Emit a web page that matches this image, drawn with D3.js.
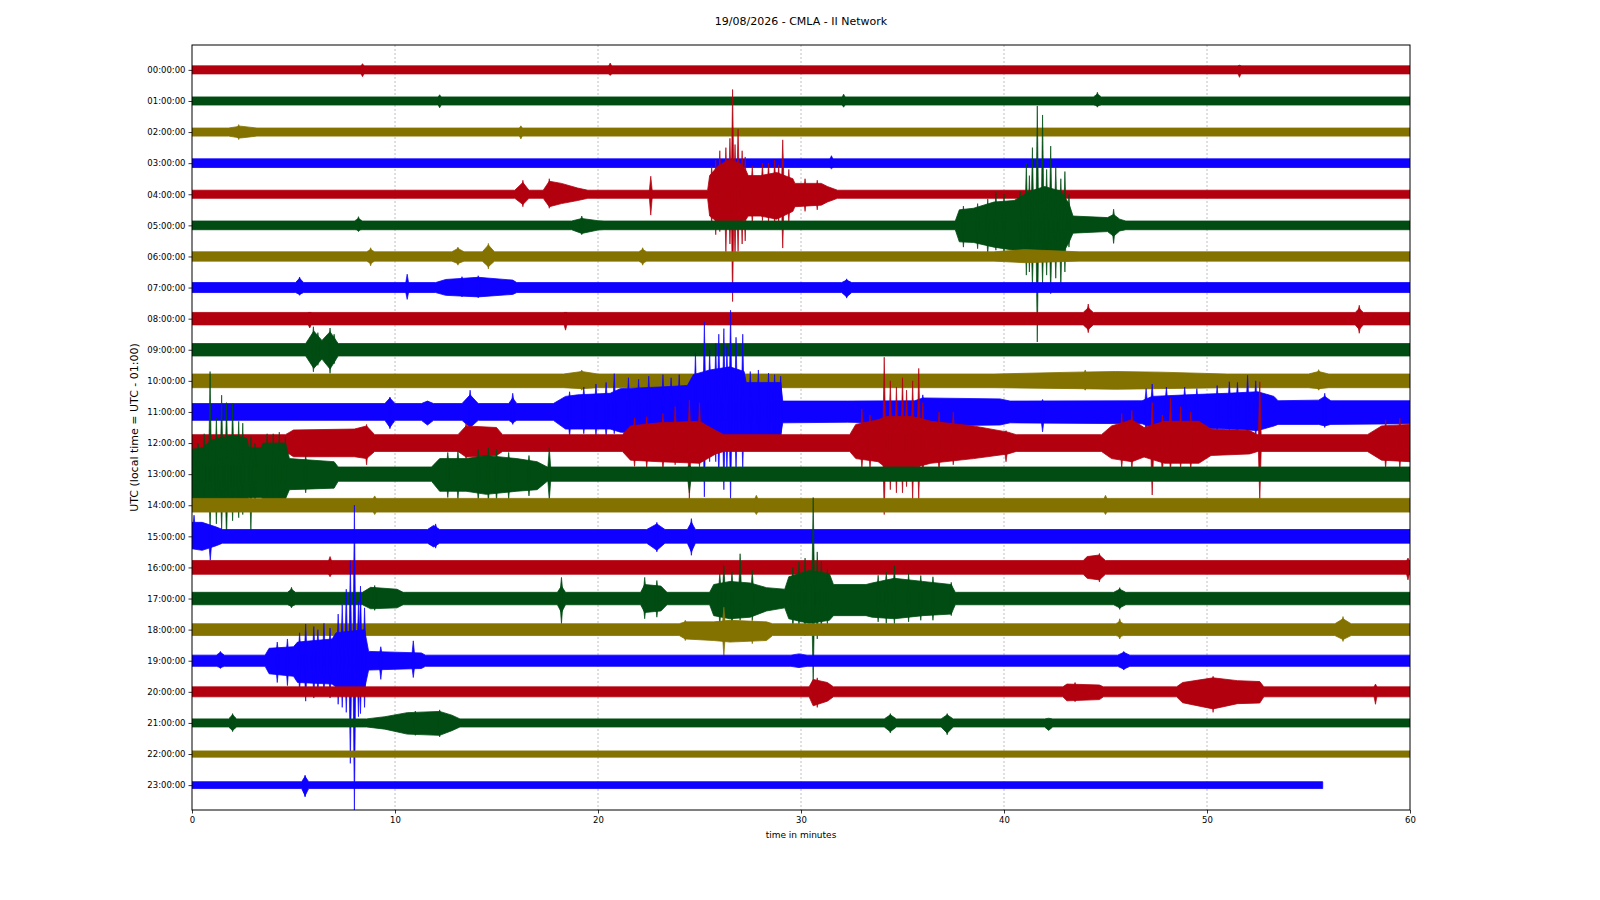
<!DOCTYPE html>
<html>
<head>
<meta charset="utf-8">
<script src="https://cdn.jsdelivr.net/npm/d3@7"></script>
<style>
  body { margin: 0; background: #fff; }
  svg text { font-family: "DejaVu Sans", sans-serif; fill: #000; }
</style>
</head>
<body>
<svg id="chart" width="1600" height="900"></svg>
<script>
// Hour labels of each helicorder line
const hourLabels = d3.range(24).map(h => `${String(h).padStart(2, "0")}:00:00`);
const minuteTicks = [0, 10, 20, 30, 40, 50, 60];
const gridMinutes = [10, 20, 30, 40, 50];
const traceColors = ["#B2000F", "#004C12", "#847200", "#0E01FF"];
const lastTraceEnd = 55.7;

// Background noise half-width of each hour (1 = one line spacing)
const baseAmp = [0.13, 0.13, 0.13, 0.14, 0.13, 0.14, 0.15, 0.16, 0.2, 0.2, 0.22, 0.27,
                 0.27, 0.23, 0.22, 0.22, 0.22, 0.2, 0.19, 0.18, 0.16, 0.13, 0.1, 0.11];

// Envelope keypoints per hour: [minute, amplitude up, amplitude down] (0 = background)
const events = [
  [],
  [[44.4, 0, 0], [44.6, 0.22, 0.15], [44.8, 0, 0]],
  [[1.8, 0, 0], [2.4, 0.19, 0.19], [3.2, 0, 0]],
  [],
  [[15.9, 0, 0], [16.3, 0.38, 0.33], [16.6, 0, 0],
   [17.3, 0, 0], [17.6, 0.42, 0.4], [18.2, 0.35, 0.3], [19.0, 0.2, 0.2], [19.5, 0, 0],
   [25.4, 0, 0], [25.5, 0.6, 0.7], [25.9, 0.9, 0.9], [26.4, 1.1, 1.05], [27.0, 1.0, 0.9], [27.3, 0.75, 0.8],
   [27.4, 0.6, 0.7], [28.0, 0.6, 0.7], [28.8, 0.7, 0.8], [29.6, 0.5, 0.55], [29.7, 0.35, 0.4],
   [31.0, 0.35, 0.35], [31.3, 0.25, 0.25], [31.8, 0, 0]],
  [[8.0, 0, 0], [8.2, 0.22, 0.15], [8.4, 0, 0],
   [18.7, 0, 0], [19.2, 0.22, 0.26], [20.0, 0.15, 0.15], [20.3, 0, 0],
   [37.6, 0, 0], [37.8, 0.5, 0.53], [38.5, 0.55, 0.55], [39.5, 0.75, 0.7], [40.5, 0.8, 0.8], [41.3, 1.1, 1.1],
   [42.0, 1.25, 1.15], [42.8, 1.1, 1.0], [43.2, 0.7, 0.55], [43.4, 0.3, 0.25], [45.1, 0.25, 0.2],
   [45.4, 0.35, 0.35], [45.7, 0.2, 0.18], [46.0, 0, 0]],
  [[8.6, 0, 0], [8.8, 0.22, 0.22], [9.0, 0, 0],
   [12.8, 0, 0], [13.1, 0.26, 0.23], [13.4, 0, 0],
   [14.3, 0, 0], [14.6, 0.37, 0.33], [14.9, 0, 0],
   [22.0, 0, 0], [22.2, 0.22, 0.22], [22.4, 0, 0],
   [39.5, 0, 0], [41.0, 0.22, 0.2], [43.7, 0, 0]],
  [[5.1, 0, 0], [5.3, 0.3, 0.22], [5.5, 0, 0],
   [12.0, 0, 0], [12.5, 0.26, 0.25], [14.1, 0.33, 0.3], [15.8, 0.24, 0.22], [16.0, 0, 0],
   [32.0, 0, 0], [32.25, 0.24, 0.3], [32.5, 0, 0]],
  [[43.9, 0, 0], [44.15, 0.35, 0.35], [44.4, 0, 0], [57.3, 0, 0], [57.5, 0.33, 0.35], [57.7, 0, 0]],
  [[5.6, 0, 0], [6.0, 0.6, 0.6], [6.4, 0.3, 0.3], [6.8, 0.58, 0.62], [7.2, 0, 0]],
  [[18.3, 0, 0], [19.2, 0.3, 0.25], [20.0, 0, 0],
   [39.5, 0, 0], [43.5, 0.28, 0.25], [45.5, 0.3, 0.27], [47.7, 0.28, 0.25], [51.0, 0, 0],
   [55.0, 0, 0], [55.5, 0.3, 0.25], [56.0, 0, 0]],
  [[9.5, 0, 0], [9.75, 0.45, 0.5], [10.0, 0, 0],
   [11.3, 0, 0], [11.6, 0.35, 0.42], [11.9, 0, 0],
   [13.3, 0, 0], [13.7, 0.55, 0.5], [14.1, 0, 0],
   [15.6, 0, 0], [15.8, 0.45, 0.35], [16.0, 0, 0],
   [17.8, 0, 0], [18.4, 0.5, 0.55], [19.0, 0.55, 0.55], [20.6, 0.6, 0.55], [21.1, 0.75, 0.65], [23.0, 0.8, 0.7],
   [24.4, 0.85, 0.75], [24.7, 1.2, 1.0], [25.5, 1.35, 1.1], [26.5, 1.45, 1.15], [27.2, 1.3, 1.0], [27.3, 0.95, 0.75],
   [29.0, 0.95, 0.75], [29.1, 0.35, 0.35], [32.3, 0.35, 0.33], [35.6, 0.36, 0.38], [36.0, 0.45, 0.45],
   [39.8, 0.42, 0.42], [40.3, 0.35, 0.35], [46.8, 0.36, 0.38], [47.3, 0.5, 0.5], [49.0, 0.55, 0.5],
   [51.0, 0.6, 0.55], [52.5, 0.65, 0.6], [53.3, 0.5, 0.45], [53.5, 0.36, 0.4], [55.5, 0.38, 0.4],
   [55.8, 0.5, 0.45], [56.1, 0.36, 0.4], [60, 0.36, 0.38]],
  [[4.6, 0, 0], [5.0, 0.42, 0.44], [8.0, 0.45, 0.44], [8.6, 0.55, 0.5], [9.0, 0, 0],
   [13.1, 0, 0], [13.5, 0.55, 0.45], [15.0, 0.5, 0.4], [15.3, 0, 0],
   [21.2, 0, 0], [21.6, 0.55, 0.55], [23.0, 0.65, 0.6], [25.0, 0.7, 0.65], [25.8, 0.4, 0.35], [26.2, 0, 0],
   [32.4, 0, 0], [32.7, 0.6, 0.5], [33.8, 0.75, 0.6], [34.2, 0.85, 0.8], [35.5, 0.85, 0.8], [36.4, 0.7, 0.65],
   [38.5, 0.55, 0.5], [40.2, 0.35, 0.35], [40.6, 0, 0],
   [44.8, 0, 0], [45.3, 0.55, 0.5], [46.3, 0.75, 0.6], [46.9, 0.5, 0.45], [47.9, 0.7, 0.65], [49.6, 0.7, 0.65],
   [50.2, 0.45, 0.4], [52.1, 0.4, 0.35], [52.5, 0, 0],
   [57.9, 0, 0], [58.6, 0.55, 0.55], [60, 0.6, 0.6]],
  [[0, 0.8, 0.8], [0.5, 0.85, 0.8], [1.0, 1.1, 1.0], [2.0, 1.25, 1.1], [2.7, 1.15, 0.95], [2.8, 0.85, 0.75],
   [3.4, 0.85, 0.75], [3.5, 1.0, 0.8], [4.6, 1.0, 0.8], [4.8, 0.5, 0.5], [7.0, 0.4, 0.45], [7.2, 0, 0],
   [11.8, 0, 0], [12.2, 0.5, 0.55], [13.5, 0.5, 0.55], [14.5, 0.6, 0.65], [16.0, 0.5, 0.55],
   [17.0, 0.4, 0.5], [17.5, 0, 0]],
  [],
  [[0, 0.45, 0.4], [0.5, 0.45, 0.45], [1.2, 0.3, 0.3], [1.5, 0, 0],
   [11.6, 0, 0], [11.9, 0.35, 0.34], [12.2, 0, 0],
   [22.4, 0, 0], [22.9, 0.4, 0.45], [23.3, 0, 0],
   [24.4, 0, 0], [24.6, 0.45, 0.5], [24.8, 0, 0]],
  [[43.9, 0, 0], [44.1, 0.35, 0.35], [44.7, 0.4, 0.4], [45.0, 0, 0]],
  [[4.7, 0, 0], [4.9, 0.3, 0.25], [5.1, 0, 0],
   [8.4, 0, 0], [8.8, 0.36, 0.33], [10.1, 0.3, 0.3], [10.4, 0, 0],
   [18.0, 0, 0], [18.2, 0.4, 0.45], [18.4, 0, 0],
   [22.1, 0, 0], [22.3, 0.45, 0.45], [23.1, 0.4, 0.4], [23.4, 0, 0],
   [25.5, 0, 0], [25.7, 0.45, 0.55], [26.5, 0.55, 0.65], [27.5, 0.5, 0.6], [28.3, 0.35, 0.4], [29.2, 0.3, 0.3],
   [29.4, 0.7, 0.65], [30.4, 0.9, 0.8], [31.4, 0.8, 0.7], [31.6, 0.45, 0.55], [33.2, 0.45, 0.55],
   [33.5, 0.5, 0.6], [34.6, 0.65, 0.65], [36.0, 0.55, 0.55], [37.4, 0.45, 0.5], [37.6, 0, 0],
   [45.4, 0, 0], [45.7, 0.3, 0.3], [46.0, 0, 0]],
  [[24.0, 0, 0], [24.3, 0.25, 0.3], [25.7, 0.25, 0.35], [26.5, 0.3, 0.4], [28.3, 0.25, 0.35], [28.6, 0, 0],
   [45.5, 0, 0], [45.7, 0.25, 0.22], [45.9, 0, 0],
   [56.3, 0, 0], [56.7, 0.35, 0.32], [57.1, 0, 0]],
  [[1.2, 0, 0], [1.4, 0.27, 0.22], [1.6, 0, 0],
   [3.6, 0, 0], [3.8, 0.4, 0.42], [5.0, 0.45, 0.5], [5.2, 0.6, 0.7], [6.9, 0.7, 0.75], [7.1, 0.9, 0.85],
   [8.5, 1.0, 0.9], [8.7, 0.3, 0.3], [11.3, 0.25, 0.25], [11.5, 0, 0],
   [29.5, 0, 0], [29.9, 0.22, 0.22], [30.3, 0, 0],
   [45.6, 0, 0], [45.9, 0.27, 0.27], [46.2, 0, 0]],
  [[30.4, 0, 0], [30.6, 0.4, 0.45], [31.3, 0.3, 0.3], [31.6, 0, 0],
   [42.9, 0, 0], [43.1, 0.25, 0.29], [44.7, 0.22, 0.25], [44.9, 0, 0],
   [48.5, 0, 0], [48.8, 0.3, 0.35], [50.3, 0.45, 0.55], [51.5, 0.36, 0.38], [52.6, 0.33, 0.36], [52.8, 0, 0]],
  [[1.8, 0, 0], [2.0, 0.26, 0.24], [2.2, 0, 0],
   [8.6, 0, 0], [9.5, 0.2, 0.2], [10.6, 0.33, 0.36], [12.2, 0.37, 0.4], [12.8, 0.25, 0.25], [13.2, 0, 0],
   [34.1, 0, 0], [34.4, 0.26, 0.28], [34.7, 0, 0],
   [36.9, 0, 0], [37.2, 0.26, 0.33], [37.5, 0, 0],
   [42.0, 0, 0], [42.2, 0.15, 0.24], [42.4, 0, 0]],
  [],
  [[5.4, 0, 0], [5.57, 0.28, 0.34], [5.75, 0, 0]]
];

// Single large swings per hour: [minute, amplitude up, amplitude down]
const spikes = [
  [[8.4, 0.2, 0.22], [20.6, 0.22, 0.18], [51.6, 0.15, 0.24]],
  [[12.2, 0.2, 0.22], [32.1, 0.22, 0.2], [44.6, 0.28, 0.2]],
  [[2.3, 0.24, 0.24], [16.2, 0.2, 0.22]],
  [[31.5, 0.24, 0.18]],
  [[16.3, 0.45, 0.4], [17.6, 0.5, 0.45], [22.6, 0.58, 0.67],
   [25.6, 0.9, 1.0], [25.8, 1.1, 1.3], [26.0, 1.4, 1.2], [26.3, 1.5, 1.85], [26.5, 1.8, 1.6],
   [26.63, 3.37, 3.45], [26.75, 1.6, 2.0], [26.9, 2.1, 1.84], [27.1, 1.4, 1.6], [27.25, 1.2, 1.5],
   [27.6, 0.9, 0.95], [28.1, 1.0, 0.85], [28.4, 1.0, 0.9], [28.7, 1.1, 1.0], [28.9, 0.95, 0.9],
   [29.1, 1.75, 1.73], [29.4, 0.8, 0.9], [30.2, 0.5, 0.55], [30.8, 0.45, 0.5]],
  [[8.2, 0.28, 0.2], [19.2, 0.3, 0.3], [38.0, 0.62, 0.7], [38.7, 0.7, 0.75], [39.2, 0.85, 0.95],
   [39.6, 1.08, 0.8], [40.0, 1.0, 0.95], [40.8, 1.1, 1.0], [41.1, 2.0, 1.6], [41.25, 1.6, 1.5],
   [41.4, 2.5, 2.0], [41.64, 3.84, 3.75], [41.9, 3.55, 1.9], [42.1, 1.8, 1.6], [42.3, 2.55, 2.2],
   [42.55, 1.9, 1.7], [42.8, 1.5, 2.0], [43.0, 1.73, 1.5], [43.2, 1.0, 0.7], [45.4, 0.52, 0.58]],
  [[8.8, 0.28, 0.3], [13.1, 0.3, 0.28], [14.6, 0.42, 0.4], [22.2, 0.28, 0.28]],
  [[5.3, 0.34, 0.25], [10.6, 0.43, 0.38], [13.3, 0.35, 0.3], [14.1, 0.38, 0.33], [32.25, 0.28, 0.34]],
  [[5.8, 0.2, 0.3], [18.4, 0.2, 0.37], [44.15, 0.47, 0.45], [57.5, 0.43, 0.47]],
  [[5.98, 0.74, 0.71], [6.2, 0.55, 0.5], [6.8, 0.7, 0.76], [7.0, 0.5, 0.45]],
  [[19.2, 0.35, 0.3], [44.0, 0.35, 0.3], [55.5, 0.36, 0.3]],
  [[9.75, 0.48, 0.54], [13.7, 0.7, 0.6], [15.8, 0.6, 0.4], [18.6, 0.65, 0.8], [19.3, 0.8, 0.7],
   [19.9, 0.9, 0.75], [20.4, 0.95, 0.8], [20.8, 1.23, 0.7], [21.5, 1.1, 0.9], [22.0, 1.05, 0.95],
   [22.5, 1.15, 0.9], [23.2, 1.2, 0.8], [23.6, 1.1, 0.85], [24.0, 1.2, 0.95], [24.8, 1.9, 1.5],
   [25.24, 2.9, 2.73], [25.5, 2.0, 1.6], [25.8, 2.2, 1.6], [25.95, 2.5, 2.1], [26.2, 2.68, 2.5],
   [26.35, 2.1, 1.9], [26.53, 3.27, 2.84], [26.8, 2.4, 1.9], [27.13, 2.5, 1.8], [27.5, 1.3, 1.0],
   [27.9, 1.35, 0.95], [28.4, 1.25, 0.9], [28.7, 1.2, 0.85], [29.0, 1.15, 0.9], [36.0, 0.55, 0.5],
   [41.9, 0.4, 0.64], [47.0, 0.75, 0.6], [47.3, 0.9, 0.6], [48.0, 0.8, 0.65], [48.9, 0.8, 0.6],
   [49.5, 0.75, 0.55], [50.5, 0.85, 0.65], [51.1, 0.97, 0.6], [51.5, 0.95, 0.7], [52.0, 1.18, 0.75],
   [52.4, 1.0, 0.8], [55.8, 0.6, 0.5]],
  [[8.6, 0.6, 0.7], [13.5, 0.64, 0.5], [21.8, 0.8, 0.75], [22.4, 0.85, 0.8], [23.2, 0.95, 0.85],
   [23.8, 1.17, 0.7], [24.5, 1.38, 1.84], [25.0, 1.3, 0.76], [33.0, 1.1, 0.8], [33.4, 0.9, 0.8],
   [34.1, 2.76, 2.3], [34.4, 2.0, 1.5], [34.7, 1.8, 1.6], [35.0, 2.1, 1.6], [35.2, 1.7, 1.4],
   [35.5, 2.0, 1.8], [35.8, 2.4, 1.8], [36.0, 1.3, 1.1], [36.8, 1.0, 0.9], [37.5, 1.0, 0.7],
   [40.1, 0.4, 0.6], [45.8, 0.95, 0.8], [46.3, 1.05, 0.85], [47.3, 1.3, 1.67], [47.8, 0.9, 1.0],
   [48.2, 1.44, 0.9], [48.7, 1.17, 0.8], [49.2, 1.0, 0.85], [52.6, 1.97, 1.84], [58.8, 0.75, 0.8],
   [59.5, 0.8, 0.8]],
  [[0.3, 1.0, 1.0], [0.6, 1.3, 1.0], [0.89, 3.3, 1.76], [1.2, 1.8, 1.6], [1.46, 2.54, 1.8],
   [1.7, 2.3, 2.1], [2.0, 2.28, 1.5], [2.3, 1.7, 1.4], [2.5, 1.64, 1.3], [2.9, 1.2, 1.8],
   [3.1, 1.0, 1.2], [3.7, 1.3, 1.0], [4.0, 1.3, 0.9], [4.3, 1.35, 0.95], [4.6, 1.2, 0.9],
   [5.6, 0.6, 0.6], [12.6, 0.7, 0.75], [13.1, 0.75, 0.8], [14.1, 0.8, 0.85], [14.6, 0.85, 0.9],
   [15.0, 0.8, 0.85], [15.6, 0.7, 0.8], [16.6, 0.6, 0.7], [17.6, 0.85, 0.85], [24.5, 0.3, 0.6]],
  [[9.0, 0.3, 0.3], [27.8, 0.32, 0.3], [45.0, 0.32, 0.3]],
  [[0.1, 0.68, 0.3], [0.9, 0.3, 0.77], [12.0, 0.4, 0.38], [22.9, 0.45, 0.5], [24.6, 0.57, 0.61]],
  [[6.8, 0.35, 0.3], [44.7, 0.45, 0.47], [59.9, 0.3, 0.4]],
  [[4.9, 0.36, 0.3], [9.0, 0.42, 0.38], [18.2, 0.68, 0.81], [22.3, 0.68, 0.65], [22.9, 0.58, 0.6],
   [26.0, 0.8, 0.85], [26.2, 1.06, 0.9], [26.6, 0.85, 0.95], [27.0, 1.44, 0.7], [27.6, 0.9, 0.7],
   [29.6, 1.0, 0.95], [29.9, 1.17, 0.9], [30.2, 1.3, 1.2], [30.6, 3.25, 2.76], [30.8, 1.5, 1.3],
   [31.0, 1.2, 1.0], [31.3, 0.95, 0.85], [33.8, 0.75, 0.75], [34.2, 0.85, 0.8], [34.6, 1.06, 0.81],
   [35.3, 0.8, 0.75], [35.9, 0.74, 0.7], [36.5, 0.7, 0.7], [37.4, 0.52, 0.55], [45.7, 0.35, 0.35]],
  [[24.3, 0.3, 0.35], [26.2, 0.72, 0.84], [27.6, 0.3, 0.45], [45.7, 0.35, 0.3], [56.7, 0.42, 0.38]],
  [[1.4, 0.3, 0.25], [4.2, 0.6, 0.7], [4.7, 0.7, 0.8], [5.3, 0.9, 1.0], [5.6, 1.18, 1.3],
   [6.0, 1.1, 1.2], [6.2, 1.0, 1.1], [6.5, 1.2, 1.1], [6.8, 1.05, 1.2], [7.2, 1.5, 1.4],
   [7.4, 1.8, 1.5], [7.6, 2.3, 1.66], [7.8, 3.22, 3.3], [8.0, 5.0, 4.8], [8.2, 1.9, 1.8],
   [8.3, 2.4, 1.7], [8.5, 1.7, 1.5], [9.3, 0.45, 0.6], [10.9, 0.64, 0.54], [45.9, 0.3, 0.3]],
  [[30.8, 0.45, 0.5], [43.5, 0.3, 0.32], [50.3, 0.5, 0.66], [58.3, 0.25, 0.4]],
  [[2.0, 0.3, 0.28], [11.0, 0.38, 0.4], [12.2, 0.42, 0.45], [34.4, 0.3, 0.32], [37.2, 0.3, 0.38]],
  [],
  [[5.57, 0.32, 0.38]]
];

const svg = d3.select("#chart");
const plot = { left: 192, right: 1410, top: 45, bottom: 810 };

const x = d3.scaleLinear().domain([0, 60]).range([plot.left, plot.right]);
const y = d3.scaleLinear().domain([-0.8, 23.8]).range([plot.top, plot.bottom]);

svg.append("defs").append("clipPath").attr("id", "plot-clip")
    .append("rect")
    .attr("x", plot.left).attr("y", plot.top)
    .attr("width", plot.right - plot.left).attr("height", plot.bottom - plot.top);

// Dotted vertical grid
svg.append("g").selectAll("line")
    .data(gridMinutes)
    .enter().append("line")
    .attr("x1", d => x(d)).attr("x2", d => x(d))
    .attr("y1", plot.top).attr("y2", plot.bottom)
    .attr("stroke", "#b0b0b0")
    .attr("stroke-width", 0.8)
    .attr("stroke-dasharray", "2,2");

// Build the envelope of one hour line
function envelope(h) {
    const b = baseAmp[h];
    const end = h === 23 ? lastTraceEnd : 60;
    let pts = events[h].slice();
    if (!pts.length || pts[0][0] > 0) pts.unshift([0, 0, 0]);
    if (pts[pts.length - 1][0] < end) pts.push([end, 0, 0]);
    return pts.map(([t, up, dn]) => ({ t, up: Math.max(up, b), dn: Math.max(dn, b) }));
}

const traces = svg.append("g").attr("clip-path", "url(#plot-clip)");

hourLabels.forEach((label, h) => {
    const color = traceColors[h % 4];
    const area = d3.area()
        .x(d => x(d.t))
        .y0(d => y(h + d.dn))
        .y1(d => y(h - d.up));

    const g = traces.append("g");
    g.append("path")
        .datum(envelope(h))
        .attr("d", area)
        .attr("fill", color)
        .attr("stroke", color)
        .attr("stroke-width", 0.8)
        .attr("stroke-linejoin", "round");

    const b = baseAmp[h];
    g.selectAll("path.spike")
        .data(spikes[h])
        .enter().append("path")
        .attr("class", "spike")
        .attr("d", ([t, up, dn]) => {
            const cx = x(t);
            return `M${cx - 1.4},${y(h - b)}L${cx},${y(h - up)}L${cx + 1.4},${y(h - b)}` +
                   `L${cx + 1.4},${y(h + b)}L${cx},${y(h + dn)}L${cx - 1.4},${y(h + b)}Z`;
        })
        .attr("fill", color)
        .attr("stroke", color)
        .attr("stroke-width", 0.7);
});

// Axes
const xAxis = svg.append("g")
    .attr("transform", `translate(0,${plot.bottom})`)
    .call(d3.axisBottom(x).tickValues(minuteTicks).tickFormat(d3.format("d")).tickSize(3.5).tickPadding(3));
const yAxis = svg.append("g")
    .attr("transform", `translate(${plot.left},0)`)
    .call(d3.axisLeft(y).tickValues(d3.range(24)).tickFormat(i => hourLabels[i]).tickSize(3.5).tickPadding(3));
[xAxis, yAxis].forEach(a => {
    a.select(".domain").remove();
    a.selectAll("text").style("font-size", "8.5px");
    a.selectAll("line").attr("stroke", "#000").attr("stroke-width", 0.8);
});

svg.append("rect")
    .attr("x", plot.left).attr("y", plot.top)
    .attr("width", plot.right - plot.left).attr("height", plot.bottom - plot.top)
    .attr("fill", "none").attr("stroke", "#000").attr("stroke-width", 1);

// Titles
svg.append("text")
    .attr("x", (plot.left + plot.right) / 2).attr("y", 22)
    .attr("text-anchor", "middle").attr("dominant-baseline", "middle")
    .style("font-size", "11px")
    .text("19/08/2026 - CMLA - II Network");

svg.append("text")
    .attr("x", (plot.left + plot.right) / 2).attr("y", 835)
    .attr("text-anchor", "middle").attr("dominant-baseline", "middle")
    .style("font-size", "9px")
    .text("time in minutes");

svg.append("text")
    .attr("transform", `translate(135,${(plot.top + plot.bottom) / 2}) rotate(-90)`)
    .attr("text-anchor", "middle").attr("dominant-baseline", "middle")
    .style("font-size", "11px")
    .text("UTC (local time = UTC - 01:00)");
</script>
</body>
</html>
